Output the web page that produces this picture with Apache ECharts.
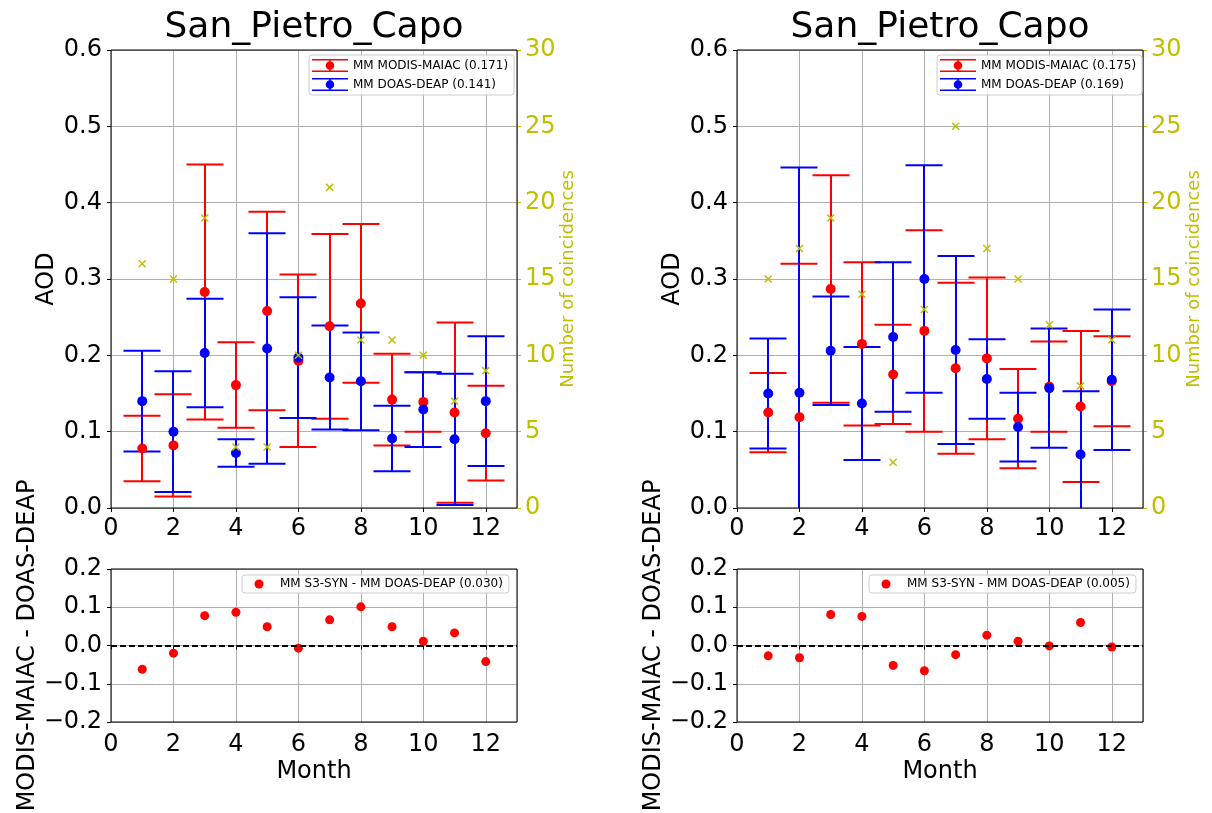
<!DOCTYPE html>
<html>
<head>
<meta charset="utf-8">
<title>San_Pietro_Capo</title>
<script src="https://cdn.jsdelivr.net/npm/echarts@6/dist/echarts.min.js"></script>
<style>
  html, body { margin: 0; padding: 0; background: #fff; }
  #chart { width: 1212px; height: 813px; }
</style>
</head>
<body>
<div id="chart"></div>
<script>
var stationTitle = 'San_Pietro_Capo';
var months = [1, 2, 3, 4, 5, 6, 7, 8, 9, 10, 11, 12];
var monthTicks = [0, 2, 4, 6, 8, 10, 12];

// left figure
var maiacMeanL = [0.078, 0.082, 0.283, 0.161, 0.258, 0.193, 0.238, 0.268, 0.142, 0.139, 0.125, 0.098];
var maiacStdL  = [0.043, 0.067, 0.167, 0.056, 0.130, 0.113, 0.121, 0.104, 0.060, 0.039, 0.118, 0.062];
var doasMeanL  = [0.140, 0.100, 0.203, 0.072, 0.209, 0.197, 0.171, 0.166, 0.091, 0.129, 0.090, 0.140];
var doasStdL   = [0.066, 0.079, 0.071, 0.018, 0.151, 0.079, 0.068, 0.064, 0.043, 0.049, 0.086, 0.085];
var countsL    = [16, 15, 19, 4, 4, 10, 21, 11, 11, 10, 7, 9];
var diffL      = [-0.062, -0.020, 0.078, 0.087, 0.049, -0.007, 0.067, 0.101, 0.049, 0.011, 0.033, -0.042];
var maiacNameL = 'MM MODIS-MAIAC (0.171)';
var doasNameL  = 'MM DOAS-DEAP (0.141)';
var diffNameL  = 'MM S3-SYN - MM DOAS-DEAP (0.030)';

// right figure
var maiacMeanR = [0.125, 0.119, 0.287, 0.215, 0.175, 0.232, 0.183, 0.196, 0.117, 0.159, 0.133, 0.166];
var maiacStdR  = [0.052, 0.201, 0.149, 0.107, 0.065, 0.132, 0.112, 0.106, 0.065, 0.059, 0.099, 0.059];
var doasMeanR  = [0.150, 0.151, 0.206, 0.137, 0.224, 0.300, 0.207, 0.169, 0.106, 0.157, 0.070, 0.168];
var doasStdR   = [0.072, 0.295, 0.071, 0.074, 0.098, 0.149, 0.123, 0.052, 0.045, 0.078, 0.083, 0.092];
var countsR    = [15, 17, 19, 14, 3, 13, 25, 17, 15, 12, 8, 11];
var diffR      = [-0.027, -0.032, 0.081, 0.076, -0.052, -0.066, -0.024, 0.027, 0.011, -0.001, 0.060, -0.004];
var maiacNameR = 'MM MODIS-MAIAC (0.175)';
var doasNameR  = 'MM DOAS-DEAP (0.169)';
var diffNameR  = 'MM S3-SYN - MM DOAS-DEAP (0.005)';

var FONT = "'DejaVu Sans', sans-serif";
var RED = '#ff0000', BLUE = '#0000ff', OLIVE = '#bfbf00', GRID = '#b0b0b0';
// errorbar legend handle: two caps, a bar and a dot
var ERR_ICON = 'path://M0,0H36V1.6H0Z M0,11.4H36V13H0Z M17.2,0H18.8V13H17.2Z M22.3,6.5A4.3,4.3 0 1 1 13.7,6.5A4.3,4.3 0 1 1 22.3,6.5Z';
// dot handle, padded on both sides so the text sits further right
var DOT_ICON = 'path://M0,5L0,5 M28,5L28,5 M16.5,5A4.5,4.5 0 1 1 7.5,5A4.5,4.5 0 1 1 16.5,5Z';

function errData(mean, std) {
  return months.map(function (m, i) { return [m, mean[i] - std[i], mean[i] + std[i]]; });
}
function pairs(vals) {
  return months.map(function (m, i) { return [m, vals[i]]; });
}

function renderErr(params, api) {
  var x = api.value(0);
  var lo = api.coord([x, api.value(1)]);
  var hi = api.coord([x, api.value(2)]);
  var cx = Math.round(lo[0]); // snap so the blue bar fully hides the red one
  var half = 18.5;
  var c = api.visual('color');
  function seg(x1, y1, x2, y2) {
    return { type: 'line', shape: { x1: x1, y1: y1, x2: x2, y2: y2 }, style: { stroke: c, lineWidth: 2 } };
  }
  return {
    type: 'group',
    children: [
      seg(cx, lo[1], cx, hi[1]),
      seg(cx - half, lo[1], cx + half, lo[1]),
      seg(cx - half, hi[1], cx + half, hi[1])
    ]
  };
}

function monthAxis(g, withName) {
  return {
    type: 'value', gridIndex: g, min: 0, max: 13, interval: 2,
    name: withName ? 'Month' : '', nameLocation: 'middle', nameGap: 38,
    nameTextStyle: { fontSize: 24, color: '#000', fontFamily: FONT },
    axisLine: { show: false },
    axisTick: { show: true, length: 4, lineStyle: { color: '#000' } },
    axisLabel: {
      fontSize: 24, color: '#000', fontFamily: FONT, margin: withName ? 11 : 9, showMaxLabel: false,
      formatter: function (v) { return monthTicks.indexOf(v) >= 0 ? String(v) : ''; }
    },
    splitLine: { show: true, lineStyle: { color: GRID, width: 1 } }
  };
}

function fmtSigned(v) {
  if (Math.abs(v) < 1e-9) return '0.0';
  return (v < 0 ? '\u2212' : '') + Math.abs(v).toFixed(1);
}

function aodAxis(g) {
  return {
    type: 'value', gridIndex: g, min: 0, max: 0.6, interval: 0.1,
    name: 'AOD', nameLocation: 'middle', nameRotate: 90, nameGap: 52,
    nameTextStyle: { fontSize: 24, color: '#000', fontFamily: FONT },
    axisLine: { show: false },
    axisTick: { show: true, length: 4, lineStyle: { color: '#000' } },
    axisLabel: { fontSize: 24, color: '#000', fontFamily: FONT, margin: 9, formatter: fmtSigned },
    splitLine: { show: true, lineStyle: { color: GRID, width: 1 } }
  };
}

function countAxis(g) {
  return {
    type: 'value', gridIndex: g, position: 'right', min: 0, max: 30, interval: 5,
    name: 'Number of coincidences', nameLocation: 'middle', nameRotate: 90, nameGap: 39,
    nameTextStyle: { fontSize: 18, color: OLIVE, fontFamily: FONT },
    axisLine: { show: false },
    axisTick: { show: true, length: 4, lineStyle: { color: OLIVE } },
    axisLabel: { fontSize: 24, color: OLIVE, fontFamily: FONT, margin: 8 },
    splitLine: { show: false }
  };
}

function diffAxis(g) {
  return {
    type: 'value', gridIndex: g, min: -0.2, max: 0.2, interval: 0.1,
    name: 'MODIS-MAIAC - DOAS-DEAP', nameLocation: 'middle', nameRotate: 90, nameGap: 71,
    nameTextStyle: { fontSize: 24, color: '#000', fontFamily: FONT },
    axisLine: { show: false },
    axisTick: { show: true, length: 4, lineStyle: { color: '#000' } },
    axisLabel: { fontSize: 24, color: '#000', fontFamily: FONT, margin: 9, formatter: fmtSigned },
    splitLine: { show: true, lineStyle: { color: GRID, width: 1 } }
  };
}

// x index, aod y index, count y index
function topSeries(xi, yi, ci, maiacMean, maiacStd, doasMean, doasStd, counts, maiacName, doasName) {
  return [
    { type: 'custom', name: maiacName, xAxisIndex: xi, yAxisIndex: yi, clip: true,
      itemStyle: { color: RED }, renderItem: renderErr, encode: { x: 0, y: [1, 2] },
      data: errData(maiacMean, maiacStd) },
    { type: 'custom', name: doasName, xAxisIndex: xi, yAxisIndex: yi, clip: true,
      itemStyle: { color: BLUE }, renderItem: renderErr, encode: { x: 0, y: [1, 2] },
      data: errData(doasMean, doasStd) },
    { type: 'scatter', name: maiacName, xAxisIndex: xi, yAxisIndex: yi, symbol: 'circle', symbolSize: 10,
      itemStyle: { color: RED, opacity: 1 }, data: pairs(maiacMean) },
    { type: 'scatter', name: doasName, xAxisIndex: xi, yAxisIndex: yi, symbol: 'circle', symbolSize: 10,
      itemStyle: { color: BLUE, opacity: 1 }, data: pairs(doasMean) },
    { type: 'scatter', name: 'counts', xAxisIndex: xi, yAxisIndex: ci,
      symbol: 'path://M0,0L10,10M10,0L0,10', symbolSize: 7,
      itemStyle: { color: 'rgba(0,0,0,0)', borderColor: OLIVE, borderWidth: 1.5, opacity: 1 },
      data: pairs(counts) }
  ];
}

function diffSeries(xi, yi, diff, name) {
  return {
    type: 'scatter', name: name, xAxisIndex: xi, yAxisIndex: yi, symbol: 'circle', symbolSize: 9,
    itemStyle: { color: RED, opacity: 1 }, data: pairs(diff),
    markLine: {
      silent: true, symbol: ['none', 'none'], label: { show: false },
      lineStyle: { color: '#000', type: [6, 3], width: 1.8 },
      emphasis: { disabled: true },
      data: [{ yAxis: 0 }]
    }
  };
}

function errLegend(left, names) {
  return {
    left: left, top: 55, orient: 'vertical', selectedMode: false,
    data: names.map(function (n) { return { name: n, icon: ERR_ICON }; }),
    itemWidth: 36, itemHeight: 13, itemGap: 6, padding: [4, 6, 4, 3],
    backgroundColor: 'rgba(255,255,255,0.8)', borderColor: '#cccccc', borderWidth: 1, borderRadius: 3,
    itemStyle: { borderWidth: 0, opacity: 1 },
    textStyle: { fontSize: 12, color: '#000', fontFamily: FONT }
  };
}

function dotLegend(left, name) {
  return {
    left: left, top: 575, orient: 'vertical', selectedMode: false,
    data: [{ name: name, icon: DOT_ICON }],
    itemWidth: 28, itemHeight: 10, padding: [3, 6, 3, 5],
    backgroundColor: 'rgba(255,255,255,0.8)', borderColor: '#cccccc', borderWidth: 1, borderRadius: 3,
    itemStyle: { borderWidth: 0, opacity: 1 },
    textStyle: { fontSize: 12, color: '#000', fontFamily: FONT }
  };
}

// border drawn above grid lines and data, like matplotlib spines
var gridBase = { show: true, z: 3, borderColor: '#000', borderWidth: 1, backgroundColor: 'rgba(0,0,0,0)', containLabel: false, outerBoundsMode: 'none' };

var chart = echarts.init(document.getElementById('chart'), null, { renderer: 'canvas' });
chart.setOption({
  animation: false,
  backgroundColor: '#fff',
  textStyle: { fontFamily: FONT },
  title: [
    { text: stationTitle, left: 314, top: 10, textAlign: 'center', padding: 0,
      textStyle: { fontSize: 36, fontWeight: 'normal', color: '#000', fontFamily: FONT } },
    { text: stationTitle, left: 940, top: 10, textAlign: 'center', padding: 0,
      textStyle: { fontSize: 36, fontWeight: 'normal', color: '#000', fontFamily: FONT } }
  ],
  grid: [
    Object.assign({ left: 111, top: 50, width: 406, height: 458 }, gridBase),
    Object.assign({ left: 111, top: 569, width: 406, height: 153 }, gridBase),
    Object.assign({ left: 737, top: 50, width: 406, height: 458 }, gridBase),
    Object.assign({ left: 737, top: 569, width: 406, height: 153 }, gridBase)
  ],
  xAxis: [monthAxis(0, false), monthAxis(1, true), monthAxis(2, false), monthAxis(3, true)],
  yAxis: [aodAxis(0), countAxis(0), diffAxis(1), aodAxis(2), countAxis(2), diffAxis(3)],
  legend: [
    errLegend(309, [maiacNameL, doasNameL]),
    dotLegend(242, diffNameL),
    errLegend(937, [maiacNameR, doasNameR]),
    dotLegend(869, diffNameR)
  ],
  series: []
    .concat(topSeries(0, 0, 1, maiacMeanL, maiacStdL, doasMeanL, doasStdL, countsL, maiacNameL, doasNameL))
    .concat([diffSeries(1, 2, diffL, diffNameL)])
    .concat(topSeries(2, 3, 4, maiacMeanR, maiacStdR, doasMeanR, doasStdR, countsR, maiacNameR, doasNameR))
    .concat([diffSeries(3, 5, diffR, diffNameR)])
});
</script>
</body>
</html>
